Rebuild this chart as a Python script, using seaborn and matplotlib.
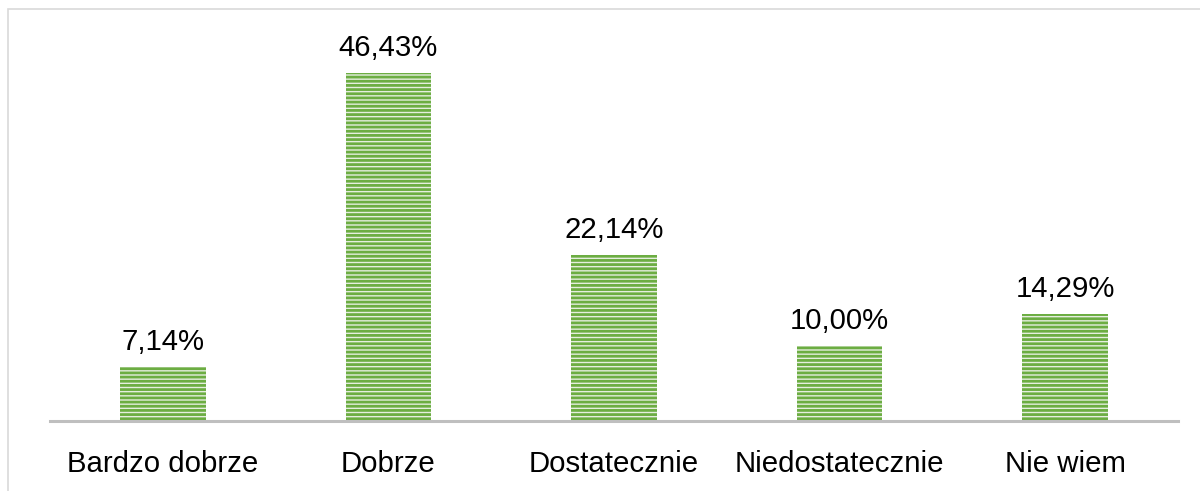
import matplotlib
matplotlib.use("Agg")
import matplotlib.pyplot as plt
import matplotlib.patches as mpatches
import seaborn as sns

# --- data ---
categories = ["Bardzo dobrze", "Dobrze", "Dostatecznie", "Niedostatecznie", "Nie wiem"]
values = [7.14, 46.43, 22.14, 10.00, 14.29]
value_labels = [f"{v:.2f}%".replace(".", ",") for v in values]

sns.set_theme(style="white")
plt.rcParams["font.family"] = ["Liberation Sans", "DejaVu Sans"]
plt.rcParams["hatch.linewidth"] = 2.0

fig = plt.figure(figsize=(12, 4.91), dpi=100)
ax = fig.add_axes([50 / 1200, 70 / 491, 1128 / 1200, 390 / 491])

sns.barplot(x=categories, y=values, color="#e4f1dc", width=0.38, ax=ax)

for p in ax.patches:
    p.set_edgecolor("#6cad42")
    p.set_linewidth(0)
    p.set_hatch("----")

ax.bar_label(ax.containers[0], labels=value_labels, padding=8, fontsize=21.2, color="#000000")

ax.set_ylim(0, 52)
ax.set_xlim(-0.5, 4.5)
ax.set_yticks([])
ax.set_xlabel("")
ax.set_ylabel("")
for side in ["top", "right", "left"]:
    ax.spines[side].set_visible(False)
ax.spines["bottom"].set_color("#bfbfbf")
ax.spines["bottom"].set_linewidth(2.2)
ax.tick_params(axis="x", length=0, pad=21, labelsize=21.2, labelcolor="#000000")

# light frame around the chart area
frame = mpatches.Rectangle((8 / 1200, -0.05), 1.05, (491 - 9) / 491 + 0.05,
                           transform=fig.transFigure, fill=False,
                           edgecolor="#d9d9d9", linewidth=1.2, clip_on=False)
fig.patches.append(frame)

fig.savefig("out.png", dpi=100)
